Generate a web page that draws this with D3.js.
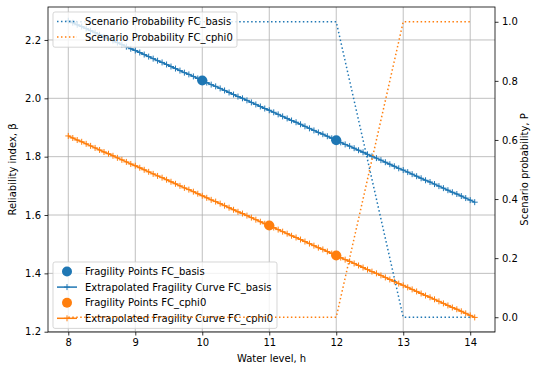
<!DOCTYPE html>
<html>
<head>
<meta charset="utf-8">
<script src="https://cdn.jsdelivr.net/npm/d3@7"></script>
<style>
  body { margin: 0; background: #fff; }
</style>
</head>
<body>
<div id="chart"></div>
<script>
// water levels of the extrapolated curves (step ~1/15 m)
var waterLevels = [8, 8.067, 8.133, 8.2, 8.267, 8.333, 8.4, 8.467, 8.533, 8.6, 8.667, 8.733, 8.8, 8.867, 8.933,
    9, 9.067, 9.133, 9.2, 9.267, 9.333, 9.4, 9.467, 9.533, 9.6, 9.667, 9.733, 9.8, 9.867, 9.933,
    10, 10.067, 10.133, 10.2, 10.267, 10.333, 10.4, 10.467, 10.533, 10.6, 10.667, 10.733, 10.8, 10.867, 10.933,
    11, 11.067, 11.133, 11.2, 11.267, 11.333, 11.4, 11.467, 11.533, 11.6, 11.667, 11.733, 11.8, 11.867, 11.933,
    12, 12.067, 12.133, 12.2, 12.267, 12.333, 12.4, 12.467, 12.533, 12.6, 12.667, 12.733, 12.8, 12.867, 12.933,
    13, 13.067, 13.133, 13.2, 13.267, 13.333, 13.4, 13.467, 13.533, 13.6, 13.667, 13.733, 13.8, 13.867, 13.933,
    14, 14.067];

var curveBasis = [2.266, 2.259, 2.252, 2.246, 2.239, 2.232, 2.225, 2.218, 2.211, 2.205, 2.198, 2.191, 2.184, 2.177, 2.170,
    2.164, 2.157, 2.150, 2.143, 2.136, 2.129, 2.123, 2.116, 2.109, 2.102, 2.095, 2.088, 2.082, 2.075, 2.068,
    2.061, 2.054, 2.047, 2.041, 2.034, 2.027, 2.020, 2.013, 2.006, 2.000, 1.993, 1.986, 1.979, 1.972, 1.965,
    1.959, 1.952, 1.945, 1.938, 1.931, 1.924, 1.918, 1.911, 1.904, 1.897, 1.890, 1.883, 1.877, 1.870, 1.863,
    1.856, 1.849, 1.842, 1.836, 1.829, 1.822, 1.815, 1.808, 1.801, 1.795, 1.788, 1.781, 1.774, 1.767, 1.760,
    1.754, 1.747, 1.740, 1.733, 1.726, 1.719, 1.713, 1.706, 1.699, 1.692, 1.685, 1.678, 1.672, 1.665, 1.658,
    1.651, 1.644];

var curveCphi0 = [1.871, 1.864, 1.857, 1.851, 1.844, 1.837, 1.830, 1.823, 1.816, 1.810, 1.803, 1.796, 1.789, 1.782, 1.775,
    1.769, 1.762, 1.755, 1.748, 1.741, 1.734, 1.728, 1.721, 1.714, 1.707, 1.700, 1.693, 1.687, 1.680, 1.673,
    1.666, 1.659, 1.652, 1.646, 1.639, 1.632, 1.625, 1.618, 1.611, 1.605, 1.598, 1.591, 1.584, 1.577, 1.570,
    1.564, 1.557, 1.550, 1.543, 1.536, 1.529, 1.523, 1.516, 1.509, 1.502, 1.495, 1.488, 1.482, 1.475, 1.468,
    1.461, 1.454, 1.447, 1.441, 1.434, 1.427, 1.420, 1.413, 1.406, 1.400, 1.393, 1.386, 1.379, 1.372, 1.365,
    1.359, 1.352, 1.345, 1.338, 1.331, 1.324, 1.318, 1.311, 1.304, 1.297, 1.290, 1.283, 1.277, 1.270, 1.263,
    1.256, 1.249];

// fragility points
var pointsBasisH = [10, 12];
var pointsBasisBeta = [2.061, 1.856];
var pointsCphi0H = [11, 12];
var pointsCphi0Beta = [1.564, 1.461];

// scenario probabilities
var scenarioLevels = [8, 9, 10, 11, 12, 13, 14];
var probBasis = [1, 1, 1, 1, 1, 0, 0];
var probCphi0 = [0, 0, 0, 0, 0, 1, 1];

var xTicks = [8, 9, 10, 11, 12, 13, 14];
var yTicks = [1.2, 1.4, 1.6, 1.8, 2.0, 2.2];
var pTicks = [0.0, 0.2, 0.4, 0.6, 0.8, 1.0];

var blue = "#1f77b4", orange = "#ff7f0e";
var FONT = "'DejaVu Sans'";

var W = 538, H = 371;
var margin = {top: 7, right: 43, bottom: 39, left: 48},
    width = W - margin.left - margin.right,
    height = H - margin.top - margin.bottom;

var svg = d3.select("#chart").append("svg")
    .attr("width", W).attr("height", H);
var g = svg.append("g")
    .attr("transform", "translate(" + margin.left + "," + margin.top + ")");

var x = d3.scaleLinear().domain([7.697, 14.37]).range([0, width]);
var y = d3.scaleLinear().domain([1.199, 2.313]).range([height, 0]);
var yP = d3.scaleLinear().domain([-0.05, 1.05]).range([height, 0]);

function label(sel) {
    return sel.style("font-family", FONT).style("font-size", "10px").style("fill", "#000");
}

// grid (left axis only)
g.append("g").selectAll("line").data(xTicks).enter().append("line")
    .attr("x1", d => x(d)).attr("x2", d => x(d))
    .attr("y1", 0).attr("y2", height)
    .attr("stroke", "#b0b0b0").attr("stroke-width", 0.8);
g.append("g").selectAll("line").data(yTicks).enter().append("line")
    .attr("y1", d => y(d)).attr("y2", d => y(d))
    .attr("x1", 0).attr("x2", width)
    .attr("stroke", "#b0b0b0").attr("stroke-width", 0.8);

var plot = g.append("g");

function plusPath(cx, cy, s) {
    return "M" + (cx - s) + "," + cy + "H" + (cx + s) + "M" + cx + "," + (cy - s) + "V" + (cy + s);
}

function curve(levels, betas, color) {
    var pts = levels.map((h, i) => [x(h), y(betas[i])]);
    plot.append("path").attr("d", d3.line()(pts))
        .attr("fill", "none").attr("stroke", color).attr("stroke-width", 1.5);
    plot.append("path").attr("d", pts.map(p => plusPath(p[0], p[1], 3)).join(""))
        .attr("fill", "none").attr("stroke", color).attr("stroke-width", 1);
}
function points(levels, betas, color) {
    plot.append("g").selectAll("circle").data(levels).enter().append("circle")
        .attr("cx", d => x(d)).attr("cy", (d, i) => y(betas[i])).attr("r", 5)
        .attr("fill", color);
}

points(pointsBasisH, pointsBasisBeta, blue);
curve(waterLevels, curveBasis, blue);
points(pointsCphi0H, pointsCphi0Beta, orange);
curve(waterLevels, curveCphi0, orange);

// legend helper
function legend(x0, y0, w, items) {
    var lg = g.append("g").attr("transform", "translate(" + x0 + "," + y0 + ")");
    var rowH = 15.6;
    lg.append("rect").attr("x", 0).attr("y", 0).attr("width", w)
        .attr("height", items.length * rowH + 4)
        .attr("rx", 2).attr("fill", "#fff").attr("fill-opacity", 0.8)
        .attr("stroke", "#ccc").attr("stroke-opacity", 0.8).attr("stroke-width", 1);
    items.forEach(function (it, i) {
        var cy = 9.5 + i * rowH;
        if (it.type === "dot") {
            lg.append("circle").attr("cx", 14).attr("cy", cy).attr("r", 5).attr("fill", it.color);
        } else if (it.type === "plus") {
            lg.append("line").attr("x1", 4).attr("x2", 24).attr("y1", cy).attr("y2", cy)
                .attr("stroke", it.color).attr("stroke-width", 1.5);
            lg.append("path").attr("d", plusPath(14, cy, 3))
                .attr("stroke", it.color).attr("stroke-width", 1);
        } else {
            lg.append("line").attr("x1", 4).attr("x2", 24).attr("y1", cy).attr("y2", cy)
                .attr("stroke", it.color).attr("stroke-width", 1.5)
                .attr("stroke-dasharray", "1.5,2.475");
        }
        label(lg.append("text").attr("x", 32).attr("y", cy).attr("dy", "0.35em").text(it.label));
    });
}

legend(5, 255, 224, [
    {type: "dot", color: blue, label: "Fragility Points FC_basis"},
    {type: "plus", color: blue, label: "Extrapolated Fragility Curve FC_basis"},
    {type: "dot", color: orange, label: "Fragility Points FC_cphi0"},
    {type: "plus", color: orange, label: "Extrapolated Fragility Curve FC_cphi0"}
]);

// scenario probability (twin axis, drawn on top)
function probLine(vals, color) {
    g.append("path")
        .attr("d", d3.line().x((d, i) => x(scenarioLevels[i])).y(d => yP(d))(vals))
        .attr("fill", "none").attr("stroke", color).attr("stroke-width", 1.5)
        .attr("stroke-dasharray", "1.5,2.475");
}
probLine(probBasis, blue);
probLine(probCphi0, orange);

legend(5, 5, 184, [
    {type: "dotted", color: blue, label: "Scenario Probability FC_basis"},
    {type: "dotted", color: orange, label: "Scenario Probability FC_cphi0"}
]);

// axes
var xAxis = g.append("g").attr("transform", "translate(0," + height + ")")
    .call(d3.axisBottom(x).tickValues(xTicks).tickSize(3.5).tickPadding(3.5).tickFormat(d3.format("d")));
var yAxis = g.append("g")
    .call(d3.axisLeft(y).tickValues(yTicks).tickSize(3.5).tickPadding(3.5).tickFormat(d3.format(".1f")));
var pAxis = g.append("g").attr("transform", "translate(" + width + ",0)")
    .call(d3.axisRight(yP).tickValues(pTicks).tickSize(3.5).tickPadding(3.5).tickFormat(d3.format(".1f")));
[xAxis, yAxis, pAxis].forEach(function (a) {
    a.select(".domain").remove();
    a.selectAll("line").attr("stroke", "#000").attr("stroke-width", 0.8);
    label(a.selectAll("text"));
});

// frame
g.append("rect").attr("width", width).attr("height", height)
    .attr("fill", "none").attr("stroke", "#000").attr("stroke-width", 0.8);

// axis labels
label(svg.append("text").attr("x", margin.left + width / 2).attr("y", 362)
    .attr("text-anchor", "middle").text("Water level, h"));
label(svg.append("text").attr("transform", "translate(16," + (margin.top + height / 2) + ") rotate(-90)")
    .attr("text-anchor", "middle").text("Reliability index, β"));
label(svg.append("text").attr("transform", "translate(528," + (margin.top + height / 2) + ") rotate(-90)")
    .attr("text-anchor", "middle").text("Scenario probability, P"));
</script>
</body>
</html>
